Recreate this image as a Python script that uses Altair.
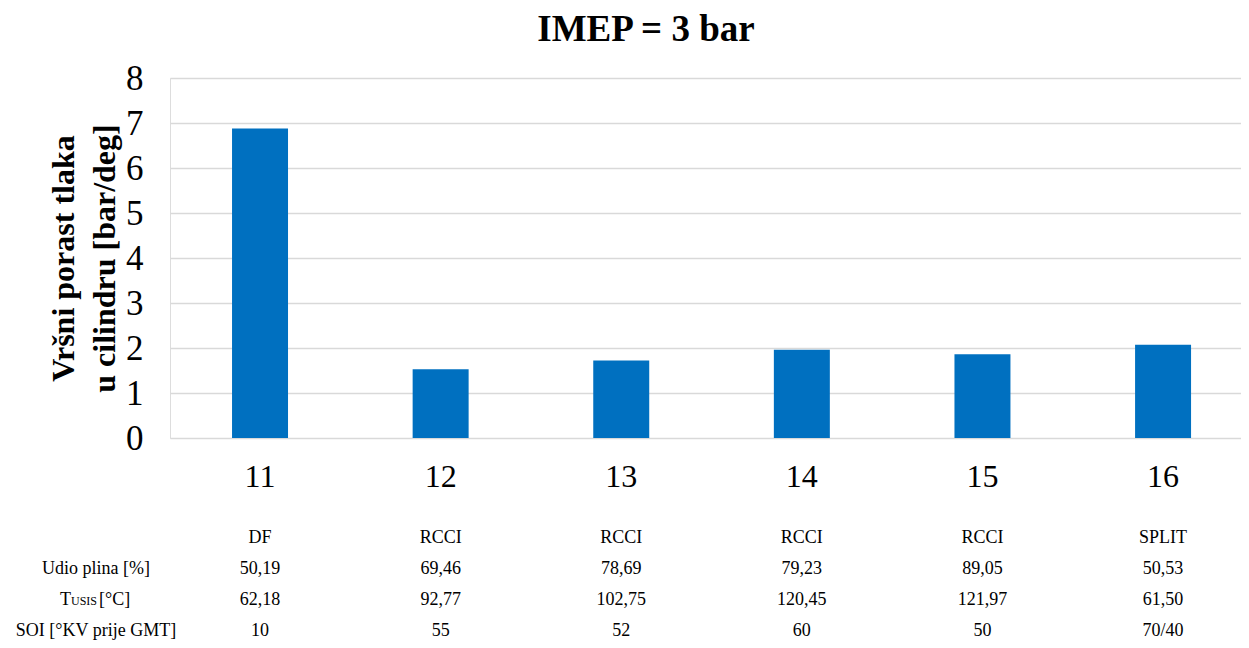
import altair as alt
import pandas as pd

SERIF = "Liberation Serif"

# ---- data ----
title_text = "IMEP = 3 bar"
cases = ["11", "12", "13", "14", "15", "16"]
peak_rise = [6.88, 1.53, 1.72, 1.96, 1.86, 2.07]
modes = ["DF", "RCCI", "RCCI", "RCCI", "RCCI", "SPLIT"]
udio_plina = ["50,19", "69,46", "78,69", "79,23", "89,05", "50,53"]
t_usis = ["62,18", "92,77", "102,75", "120,45", "121,97", "61,50"]
soi = ["10", "55", "52", "60", "50", "70/40"]
row_keys = ["mode", "udio", "tusis", "soi"]

bars_df = pd.DataFrame({"case": cases, "value": peak_rise})
table_rows = {"mode": modes, "udio": udio_plina, "tusis": t_usis, "soi": soi}
table_df = pd.DataFrame(
    [{"case": c, "row": r, "t": v} for r, vals in table_rows.items() for c, v in zip(cases, vals)]
)

W, H = 1071, 360

x_enc = alt.X(
    "case:N",
    sort=cases,
    scale=alt.Scale(domain=cases, paddingInner=0.69, paddingOuter=0.31, align=0.554, round=False),
    axis=alt.Axis(
        title=None, labelAngle=0, labelFont=SERIF, labelFontSize=32, labelColor="#000000",
        labelPadding=23, labelBaseline="top", domain=False, ticks=False, tickSize=0, grid=False,
    ),
)

row_scale = alt.Scale(type="point", domain=row_keys, range=[460, 553], padding=0)

bars = alt.Chart(bars_df).mark_bar(color="#0070C0").encode(
    x=x_enc,
    y=alt.Y(
        "value:Q",
        scale=alt.Scale(domain=[0, 8], nice=False),
        axis=alt.Axis(
            values=list(range(0, 9)),
            title=["Vršni porast tlaka", "u cilindru [bar/deg]"],
            titleFont=SERIF, titleFontSize=32, titleFontWeight="bold", titleColor="#000000",
            titleLineHeight=41, titleAngle=-90, titleAlign="center", titleBaseline="middle",
            titleX=-107, titleY=180,
            labelFont=SERIF, labelFontSize=35, labelColor="#000000", labelPadding=27,
            domain=False, ticks=False, tickSize=0,
            grid=True, gridColor="#d9d9d9", gridWidth=1.5,
        ),
    ),
)

table = alt.Chart(table_df).mark_text(font=SERIF, fontSize=18, color="#000000").encode(
    x=x_enc,
    y=alt.Y("row:N", scale=row_scale, axis=None),
    text="t:N",
)


def label(text, row, x, size=18, align="center", dy=0):
    df = pd.DataFrame({"row": [row], "t": [text]})
    return alt.Chart(df).mark_text(
        font=SERIF, fontSize=size, color="#000000", align=align, dy=dy
    ).encode(
        x=alt.value(x),
        y=alt.Y("row:N", scale=row_scale, axis=None),
        text="t:N",
    )


labels = [
    label("Udio plina [%]", "udio", -74),
    label("T", "tusis", -110, align="left"),
    label("USIS", "tusis", -99, size=12, align="left", dy=1),
    label("[°C]", "tusis", -71, align="left"),
    label("SOI [°KV prije GMT]", "soi", -74),
]

title = alt.Chart(pd.DataFrame({"t": [title_text]})).mark_text(
    font=SERIF, fontSize=37, fontWeight="bold", color="#000000",
    align="center", baseline="alphabetic",
).encode(x=alt.value(476), y=alt.value(-37), text="t:N")

chart = (
    alt.layer(bars, table, *labels, title)
    .resolve_scale(y="independent")
    .properties(
        width=W,
        height=H,
        autosize=alt.AutoSizeParams(type="none"),
        padding={"left": 162, "top": 70, "right": 0, "bottom": 202},
    )
    .configure_view(stroke=None)
    .configure(background="#ffffff")
)

chart.save("out.html", embed_options={"renderer": "svg", "actions": False})
